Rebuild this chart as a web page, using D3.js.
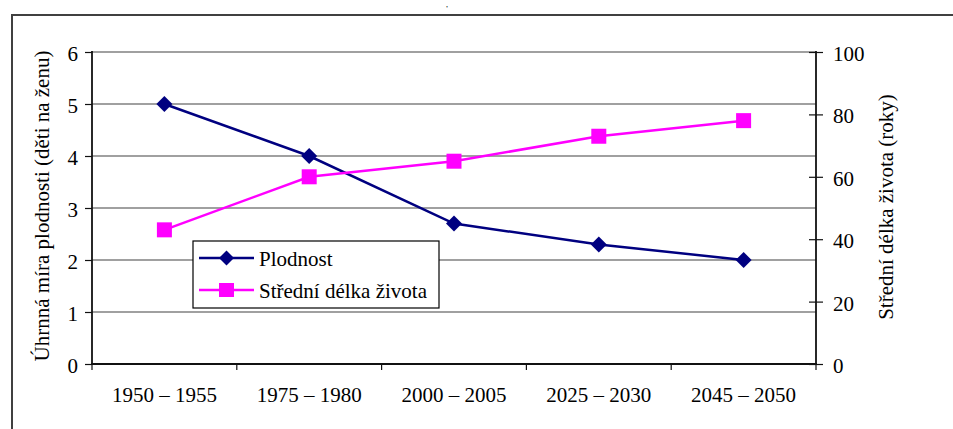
<!DOCTYPE html>
<html><head><meta charset="utf-8">
<script src="https://cdn.jsdelivr.net/npm/d3@7"></script>
<style>
body{margin:0;background:#fff}
svg{display:block}
svg text{font-family:"Liberation Serif","Tinos","Times New Roman","DejaVu Serif",serif !important;fill:#000}
</style>
</head><body>
<svg id="c" width="953" height="429"></svg>
<script>
const categories = ["1950 – 1955","1975 – 1980","2000 – 2005","2025 – 2030","2045 – 2050"];
const fertility = [5.0, 4.0, 2.7, 2.3, 2.0];
const lifeExpectancy = [43, 60, 65, 73, 78];
const leftTicks = [0, 1, 2, 3, 4, 5, 6];
const rightTicks = [0, 20, 40, 60, 80, 100];
const seriesNames = ["Plodnost", "Střední délka života"];
const leftTitle = "Úhrnná míra plodnosti (děti na ženu)";
const rightTitle = "Střední délka života (roky)";

const svg = d3.select("#c");
const FS = 21;
const FF = "'Liberation Serif','Tinos','Times New Roman','DejaVu Serif',serif";
const L = 92, R = 816, T = 52, B = 364;
const NAVY = "#000080", MAG = "#ff00ff", GRID = "#808080", AX = "#111";

// outer frame
svg.append("rect").attr("x", 12).attr("y", 15).attr("width", 960).attr("height", 430)
  .attr("fill", "#fff").attr("stroke", "#404040").attr("stroke-width", 2);
// fragment of text above the frame
svg.append("text").attr("x", 446).attr("y", 7).attr("font-size", 8).attr("font-family", FF).text(",");

const x = d3.scaleBand().domain(categories).range([L, R]);
const yL = d3.scaleLinear().domain([0, 6]).range([B, T]);
const yR = d3.scaleLinear().domain([0, 100]).range([B, T]);

// gridlines
svg.append("g").selectAll("line").data(leftTicks.filter(d => d > 0)).join("line")
  .attr("x1", L).attr("x2", R).attr("y1", d => yL(d)).attr("y2", d => yL(d))
  .attr("stroke", GRID).attr("stroke-width", 1.6);

// left axis
const gl = svg.append("g").attr("transform", `translate(${L},0)`)
  .call(d3.axisLeft(yL).tickValues(leftTicks).tickSize(7).tickPadding(7).tickFormat(d3.format("d")));
gl.attr("font-family", FF);
gl.select(".domain").remove();
gl.selectAll(".tick line").attr("stroke", AX).attr("stroke-width", 1.2);
gl.selectAll(".tick text").attr("font-size", FS).attr("dy", "0.4em");

// right axis
const gr = svg.append("g").attr("transform", `translate(${R},0)`)
  .call(d3.axisRight(yR).tickValues(rightTicks).tickSize(7).tickPadding(10).tickFormat(d3.format("d")));
gr.attr("font-family", FF);
gr.select(".domain").remove();
gr.selectAll(".tick line").attr("x1", -7).attr("stroke", AX).attr("stroke-width", 1.2);
gr.selectAll(".tick text").attr("font-size", FS).attr("dy", "0.4em");

// bottom axis: labels at band centers, ticks at band edges
const gb = svg.append("g").attr("transform", `translate(0,${B})`)
  .call(d3.axisBottom(x).tickSize(0).tickPadding(23));
gb.attr("font-family", FF);
gb.select(".domain").remove();
gb.selectAll(".tick text").attr("font-size", FS).attr("dy", "0.71em");
const edges = categories.map(c => x(c)).concat([x(categories[categories.length - 1]) + x.bandwidth()]);
svg.append("g").selectAll("line").data(edges).join("line")
  .attr("x1", d => d).attr("x2", d => d).attr("y1", B).attr("y2", B + 6)
  .attr("stroke", AX).attr("stroke-width", 1.2);

// axis lines
svg.append("line").attr("x1", L).attr("x2", L).attr("y1", T - 1).attr("y2", B).attr("stroke", AX).attr("stroke-width", 1.8);
svg.append("line").attr("x1", R).attr("x2", R).attr("y1", T - 1).attr("y2", B).attr("stroke", AX).attr("stroke-width", 1.8);
svg.append("line").attr("x1", L - 1).attr("x2", R + 1).attr("y1", B).attr("y2", B).attr("stroke", AX).attr("stroke-width", 1.8);

// axis titles
svg.append("text").attr("transform", `translate(49,206) rotate(-90)`).attr("text-anchor", "middle")
  .attr("font-size", FS).attr("font-family", FF).text(leftTitle);
svg.append("text").attr("transform", `translate(893,207) rotate(-90)`).attr("text-anchor", "middle")
  .attr("font-size", FS).attr("font-family", FF).text(rightTitle);

const cx = c => x(c) + x.bandwidth() / 2;

// series
const lineL = d3.line().x((d, i) => cx(categories[i])).y(d => yL(d));
const lineR = d3.line().x((d, i) => cx(categories[i])).y(d => yR(d));
svg.append("path").attr("d", lineL(fertility)).attr("fill", "none").attr("stroke", NAVY).attr("stroke-width", 2.5);
svg.append("path").attr("d", lineR(lifeExpectancy)).attr("fill", "none").attr("stroke", MAG).attr("stroke-width", 2.5);

const diamond = (px, py, r) => `M${px},${py - r}L${px + r},${py}L${px},${py + r}L${px - r},${py}Z`;
svg.append("g").selectAll("path").data(fertility).join("path")
  .attr("d", (d, i) => diamond(cx(categories[i]), yL(d), 8)).attr("fill", NAVY);
svg.append("g").selectAll("rect").data(lifeExpectancy).join("rect")
  .attr("x", (d, i) => cx(categories[i]) - 7.5).attr("y", d => yR(d) - 7.5)
  .attr("width", 15).attr("height", 15).attr("fill", MAG);

// legend
const lg = svg.append("g");
lg.append("rect").attr("x", 193).attr("y", 241).attr("width", 246).attr("height", 67)
  .attr("fill", "#fff").attr("stroke", "#000").attr("stroke-width", 1.2);
const rows = [258, 290];
const colors = [NAVY, MAG];
seriesNames.forEach((name, i) => {
  const ry = rows[i];
  lg.append("line").attr("x1", 199).attr("x2", 254).attr("y1", ry).attr("y2", ry)
    .attr("stroke", colors[i]).attr("stroke-width", 2.5);
  if (i === 0) lg.append("path").attr("d", diamond(226.5, ry, 7.5)).attr("fill", NAVY);
  else lg.append("rect").attr("x", 219).attr("y", ry - 7).attr("width", 15).attr("height", 14).attr("fill", MAG);
  lg.append("text").attr("x", 259).attr("y", ry + 8).attr("font-size", FS).attr("font-family", FF).text(name);
});
</script>
</body></html>
